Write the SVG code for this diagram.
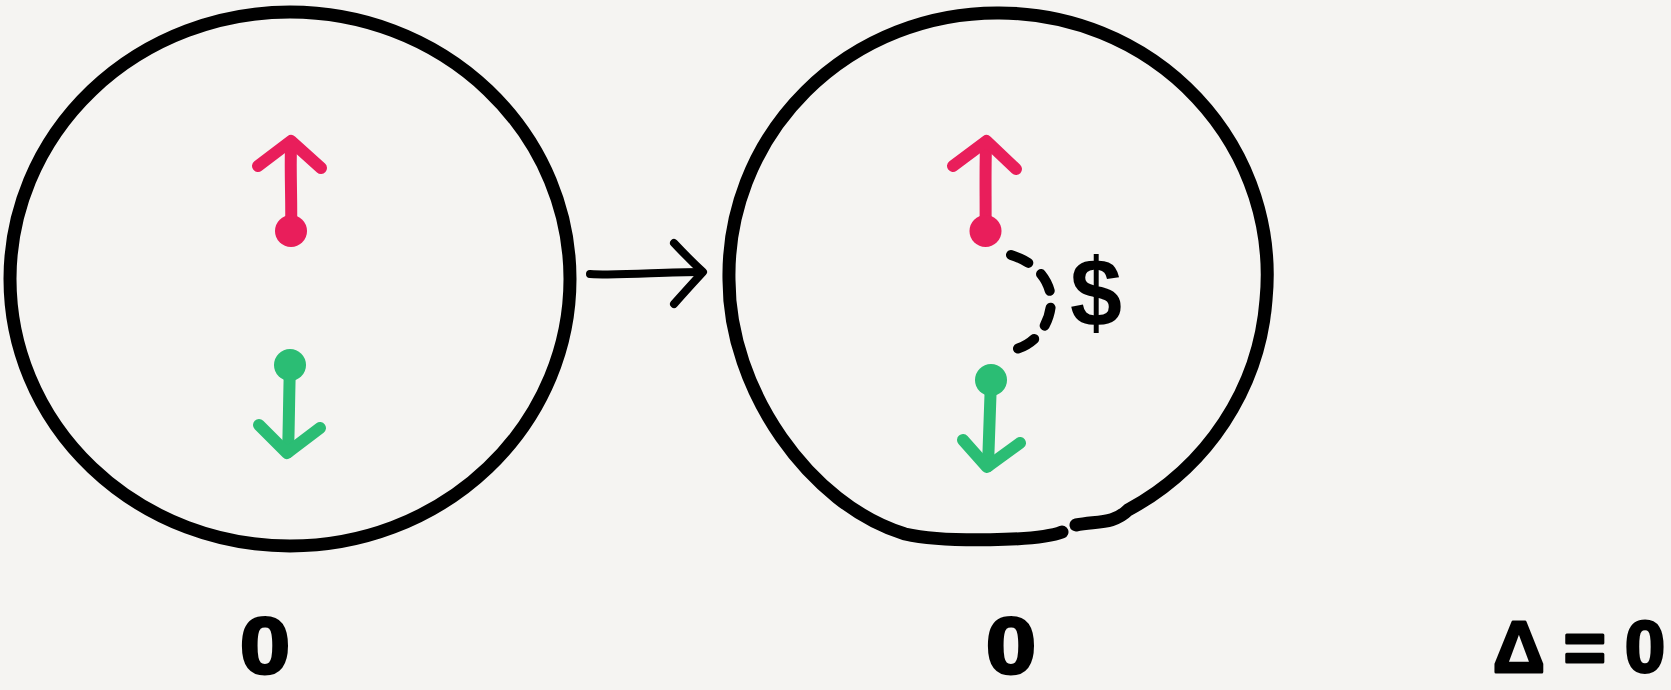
<svg xmlns="http://www.w3.org/2000/svg" width="1671" height="690" viewBox="0 0 1671 690">
  <style>
    .ink { fill: none; stroke: #000; stroke-width: 13; stroke-linecap: round; stroke-linejoin: round; }
    .conn { fill: none; stroke: #000; stroke-width: 8; stroke-linecap: round; stroke-linejoin: round; }
    .dash { fill: none; stroke: #000; stroke-width: 10; stroke-linecap: round; stroke-dasharray: 19 17; }
    .up { fill: none; stroke: #E91E5B; stroke-width: 12; stroke-linecap: round; stroke-linejoin: round; }
    .down { fill: none; stroke: #2BBD74; stroke-width: 12; stroke-linecap: round; stroke-linejoin: round; }
    .updot { fill: #E91E5B; }
    .downdot { fill: #2BBD74; }
    .lbl { font-family: "Liberation Sans", Arial, sans-serif; font-weight: bold; fill: #000; stroke: #000; stroke-width: 3; stroke-linejoin: round; }
    .sym { font-family: "Liberation Sans", Arial, sans-serif; font-weight: bold; fill: #000; }
  </style>
  <rect width="1671" height="690" fill="#F5F4F2"/>

  <g id="state-before">
    <ellipse class="ink" cx="290" cy="279" rx="280" ry="267"/>
    <g id="spin-up-before">
      <path class="up" d="M291,231 C292,205 290,175 291,147"/>
      <path class="up" d="M258,166 L291,141 L321,168"/>
      <circle class="updot" cx="291" cy="231" r="16"/>
    </g>
    <g id="spin-down-before">
      <path class="down" d="M290,365 C289,395 289,425 288,452"/>
      <path class="down" d="M259,425 L287,453 L320,428"/>
      <circle class="downdot" cx="290" cy="365" r="16"/>
    </g>
    <text class="lbl" x="240" y="673" font-size="80" textLength="50" lengthAdjust="spacingAndGlyphs">0</text>
  </g>

  <g id="state-after">
    <path class="ink" d="M1076,525 C1098,521 1114,524 1128,510 A268,262 0 0 0 1266,300 A268,262 0 0 0 997,13 A268,262 0 0 0 729,280 C729,390 810,505 905,534 C945,543 1040,541 1062,532"/>
    <g id="spin-up-after">
      <path class="up" d="M985.5,231 C986,205 985,175 986,147"/>
      <path class="up" d="M953,166 L986.5,141 L1016,169"/>
      <circle class="updot" cx="985.5" cy="231" r="16"/>
    </g>
    <g id="spin-down-after">
      <path class="down" d="M991,380 C990,410 989,440 988,466"/>
      <path class="down" d="M963,440 L987,467 L1020,443"/>
      <circle class="downdot" cx="991" cy="380" r="16"/>
    </g>
    <text class="sym" x="1070" y="326" font-size="96" textLength="52" lengthAdjust="spacingAndGlyphs">$</text>
    <text class="lbl" x="986" y="673" font-size="80" textLength="50" lengthAdjust="spacingAndGlyphs">0</text>
  </g>

  <g id="connectors">
    <path class="conn" d="M590,274 C620,276 660,272 700,272"/>
    <path class="conn" d="M674,243 Q688,258 703,272 Q690,286 674,304"/>
    <path class="dash" d="M1011,255 C1040,264 1052,285 1051,303 C1050,325 1035,345 1013,350"/>
  </g>

  <g id="label-delta">
    <text class="lbl" x="1493" y="672" font-size="72" textLength="172" lengthAdjust="spacing">Δ=0</text>
  </g>
</svg>
